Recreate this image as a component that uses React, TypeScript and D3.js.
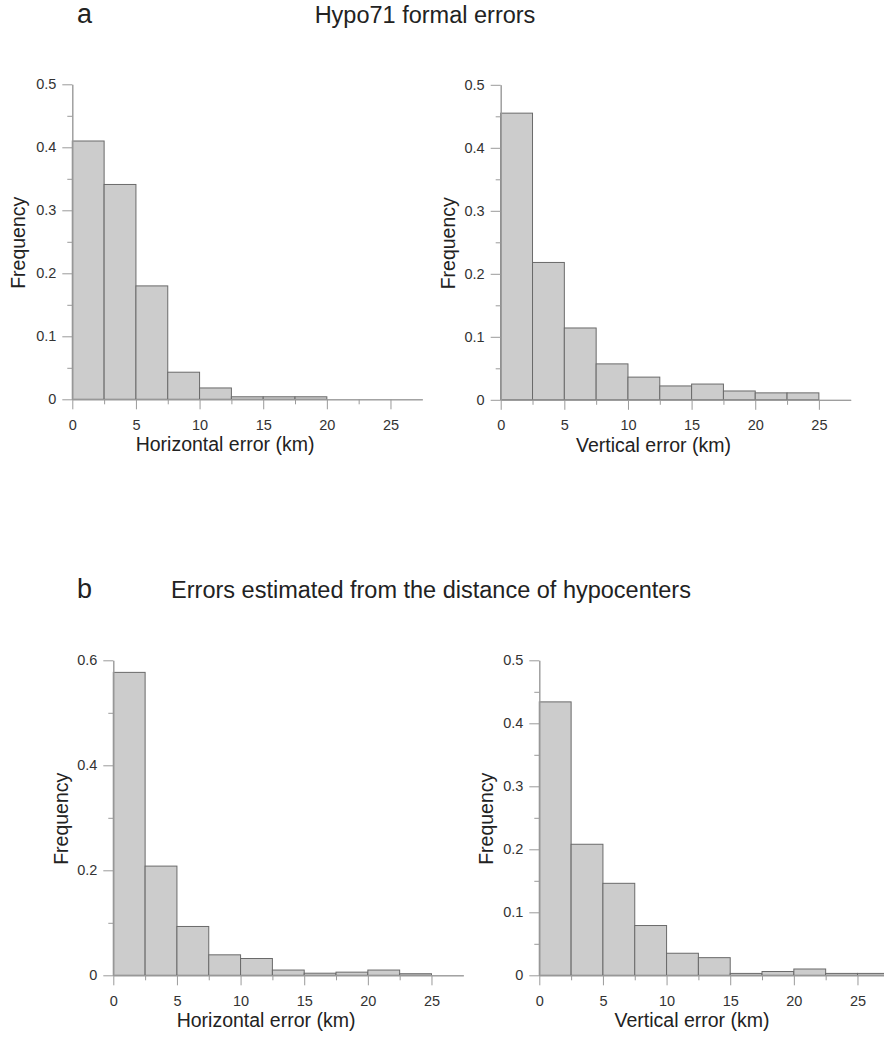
import React, { useEffect, useRef } from 'react';
import * as d3 from 'd3';

// histogram bins (km), 2.5 km wide
const binStarts = [0, 2.5, 5, 7.5, 10, 12.5, 15, 17.5, 20, 22.5, 25];
const binWidth = 2.5;
const xMajorTicks = [0, 5, 10, 15, 20, 25];
const xMinorTicks = [2.5, 7.5, 12.5, 17.5, 22.5];

// frequencies
const hypoHorizontal = [0.41, 0.341, 0.18, 0.043, 0.018, 0.004, 0.004, 0.004, 0, 0];
const hypoVertical = [0.455, 0.218, 0.114, 0.057, 0.036, 0.022, 0.025, 0.014, 0.011, 0.011];
const distHorizontal = [0.577, 0.208, 0.093, 0.039, 0.032, 0.01, 0.004, 0.006, 0.01, 0.003];
const distVertical = [0.434, 0.208, 0.146, 0.079, 0.035, 0.028, 0.003, 0.006, 0.01, 0.003, 0.003];

const yTicksHalf = [0, 0.1, 0.2, 0.3, 0.4, 0.5];
const yMinorHalf = [0.05, 0.15, 0.25, 0.35, 0.45];
const yTicksSix = [0, 0.2, 0.4, 0.6];
const yMinorSix = [0.1, 0.3, 0.5];

const FONT = '"Liberation Sans", Arial, sans-serif';
const W = 350; // width of 0..27.5 km
const H = 315;

const panels = [
  { values: hypoHorizontal, yMax: 0.5, major: yTicksHalf, minor: yMinorHalf, xLabel: 'Horizontal error (km)', left: 72.3, top: 84.3, freqX: 25 },
  { values: hypoVertical, yMax: 0.5, major: yTicksHalf, minor: yMinorHalf, xLabel: 'Vertical error (km)', left: 500.7, top: 84.8, freqX: 455 },
  { values: distHorizontal, yMax: 0.6, major: yTicksSix, minor: yMinorSix, xLabel: 'Horizontal error (km)', left: 113.3, top: 660.3, freqX: 68 },
  { values: distVertical, yMax: 0.5, major: yTicksHalf, minor: yMinorHalf, xLabel: 'Vertical error (km)', left: 539.3, top: 660.3, freqX: 493 },
];

const styleAxis = (g: any) => {
  g.attr('font-family', FONT).attr('font-size', 14.5);
  g.selectAll('.domain').attr('stroke', '#9a9a9a');
  g.selectAll('.tick line').attr('stroke', '#9a9a9a');
  g.selectAll('.tick text').attr('fill', '#333');
};

const drawPanel = (svg: any, p: any) => {
  const g = svg.append('g').attr('transform', `translate(${p.left},${p.top})`);
  const x = d3.scaleLinear().domain([0, 27.5]).range([0, W]);
  const y = d3.scaleLinear().domain([0, p.yMax]).range([H, 0]);

  const bins = p.values.map((v: number, i: number) => ({ x0: binStarts[i], v }));
  g.selectAll('rect.bar')
    .data(bins)
    .enter().append('rect')
    .attr('class', 'bar')
    .attr('x', (d: any) => x(d.x0))
    .attr('width', x(binWidth) - x(0))
    .attr('y', (d: any) => y(d.v))
    .attr('height', (d: any) => y(0) - y(d.v))
    .attr('fill', '#cccccc')
    .attr('stroke', '#6a6a6a')
    .attr('stroke-width', 1);

  // y axis: minor then major ticks
  g.append('g')
    .call(d3.axisLeft(y).tickValues(p.minor).tickSize(5).tickSizeOuter(0).tickFormat(() => ''))
    .call(styleAxis);
  g.append('g')
    .call(d3.axisLeft(y).tickValues(p.major).tickSize(10).tickPadding(6).tickSizeOuter(0)
      .tickFormat((d: any) => (d === 0 ? '0' : String(d))))
    .call(styleAxis);

  // x axis
  g.append('g')
    .attr('transform', `translate(0,${H})`)
    .call(d3.axisBottom(x).tickValues(xMinorTicks).tickSize(5).tickSizeOuter(0).tickFormat(() => ''))
    .call(styleAxis);
  g.append('g')
    .attr('transform', `translate(0,${H})`)
    .call(d3.axisBottom(x).tickValues(xMajorTicks).tickSize(10).tickPadding(10).tickSizeOuter(0)
      .tickFormat((d: any) => String(d)))
    .call(styleAxis);

  g.append('text')
    .attr('x', x(12))
    .attr('y', H + 52)
    .attr('text-anchor', 'middle')
    .attr('font-family', FONT)
    .attr('font-size', 19.5)
    .attr('fill', '#222')
    .text(p.xLabel);

  svg.append('text')
    .attr('transform', `translate(${p.freqX},${p.top + H / 2 + 1}) rotate(-90)`)
    .attr('text-anchor', 'middle')
    .attr('font-family', FONT)
    .attr('font-size', 19.5)
    .attr('fill', '#222')
    .text('Frequency');
};

const App = () => {
  const svgRef = useRef<SVGSVGElement>(null);

  useEffect(() => {
    const svg = d3.select(svgRef.current);
    svg.selectAll('*').remove();

    const heading = (txt: string, xPos: number, yPos: number, size: number, anchor: string) =>
      svg.append('text')
        .attr('x', xPos)
        .attr('y', yPos)
        .attr('text-anchor', anchor)
        .attr('font-family', FONT)
        .attr('font-size', size)
        .attr('fill', '#222')
        .text(txt);

    heading('a', 77, 23, 27, 'start');
    heading('Hypo71 formal errors', 425, 23, 23.5, 'middle');
    heading('b', 77, 598, 27, 'start');
    heading('Errors estimated from the distance of hypocenters', 431, 598, 23.5, 'middle');

    panels.forEach((p) => drawPanel(svg, p));
  }, []);

  return (
    <svg
      ref={svgRef}
      width={884}
      height={1037}
      style={{ position: 'absolute', left: 0, top: 0, background: '#fff' }}
    />
  );
};

export default App;
